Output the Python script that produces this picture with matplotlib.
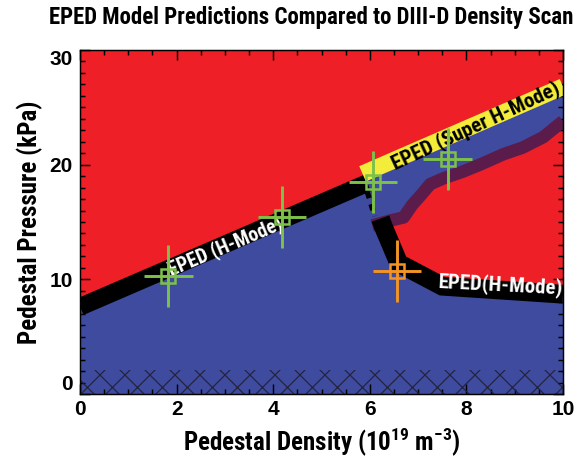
import numpy as np
import matplotlib
matplotlib.use('Agg')
import matplotlib.pyplot as plt

# EPED model lines (density in 1e19 m^-3, pressure in kPa)
hmode_x = [0.0, 5.95]
hmode_y = [7.6, 18.4]
super_x = [5.85, 10.0]
super_y = [19.2, 26.8]
purple_x = [6.05, 6.4, 6.7, 6.88, 7.05, 7.25, 7.52, 7.93, 8.28, 8.76, 9.17, 9.59, 10.0]
purple_y = [14.7, 15.1, 15.4, 16.5, 17.3, 18.3, 18.8, 19.4, 20.0, 20.9, 21.5, 22.4, 23.8]
lower_x = [6.22, 6.28, 6.6, 7.5, 10.0]
lower_y = [15.3, 14.6, 11.4, 9.4, 8.7]
jump_x = [5.95, 6.1]
jump_y = [17.6, 15.5]

# DIII-D measurements
meas_x = [1.83, 4.18, 6.06, 7.61]
meas_y = [10.3, 15.4, 18.5, 20.5]
odd_x = [6.56]
odd_y = [10.75]
err_x = 0.5
err_y = 2.7
hatch_top = 2.1

red = '#EE1F26'
blue = '#3F4B9F'
yellow = '#F4EC3B'
purple = '#5B1B4B'
green = '#7DC14B'
orange = '#F39424'

narrow = ['Roboto Condensed', 'PT Sans Narrow', 'DejaVu Sans']
plt.rcParams['font.family'] = narrow
plt.rcParams['font.weight'] = 'bold'
plt.rcParams['mathtext.fontset'] = 'custom'
plt.rcParams['mathtext.rm'] = 'Roboto Condensed:bold'
plt.rcParams['mathtext.bf'] = 'Roboto Condensed:bold'
plt.rcParams['mathtext.default'] = 'rm'
plt.rcParams['hatch.linewidth'] = 0.6
plt.rcParams['hatch.color'] = '#22243f'

fig = plt.figure(figsize=(588/150, 461/150), dpi=150)
ax = fig.add_axes([80/588, 1-394/461, 483/588, 344/461])
ax.set_facecolor(red)

# blue (stable) region under the EPED boundary
bx = np.concatenate([[0.0], hmode_x, super_x, purple_x[::-1], lower_x, [10.0]])
by = np.concatenate([[0.0], hmode_y, super_y, purple_y[::-1], lower_y, [0.0]])
ax.fill(bx, by, color=blue, lw=0, zorder=1)

ax.fill_between([0, 10], 0, hatch_top, facecolor='none', edgecolor='#22243f',
                hatch='xx', lw=0, zorder=2)

ax.plot(purple_x, purple_y, color=purple, lw=6.0, solid_capstyle='butt', zorder=3)
ax.plot(hmode_x, hmode_y, color='black', lw=8.5, solid_capstyle='butt', zorder=4)
ax.plot(lower_x, lower_y, color='black', lw=9, solid_capstyle='butt',
        solid_joinstyle='miter', zorder=4)
ax.plot(super_x, super_y, color=yellow, lw=8, solid_capstyle='butt', zorder=5)
ax.plot(jump_x, jump_y, color='black', lw=2.5, dashes=(1.2, 1.2), zorder=4)

ax.text(3.0, 12.9, 'EPED (H-Mode)', color='white', fontsize=9.5, rotation=23,
        ha='center', va='center', rotation_mode='anchor', zorder=6)
ax.text(8.2, 23.4, 'EPED (Super H-Mode)', color='black', fontsize=10, rotation=25,
        ha='center', va='center', rotation_mode='anchor', zorder=6)
ax.text(8.72, 9.5, 'EPED(H-Mode)', color='white', fontsize=10, rotation=-3,
        ha='center', va='center', rotation_mode='anchor', zorder=6)

ax.errorbar(meas_x, meas_y, xerr=err_x, yerr=err_y, fmt='s', mfc='none', mec=green,
            ms=6.7, mew=1.2, ecolor=green, elinewidth=1.4, capsize=0, zorder=7)
ax.errorbar(odd_x, odd_y, xerr=err_x, yerr=err_y, fmt='s', mfc='none', mec=orange,
            ms=6.7, mew=1.2, ecolor=orange, elinewidth=1.4, capsize=0, zorder=7)

ax.set_xlim(0, 10)
ax.set_ylim(0, 30)
ax.set_xticks(np.arange(0, 11, 2))
ax.set_xticks(np.arange(0, 10.01, 0.5), minor=True)
ax.set_yticks([0, 10, 20, 30])
ax.set_yticks(np.arange(0, 31, 1), minor=True)
ax.tick_params(which='both', direction='in', top=True, right=True, width=0.7)
ax.tick_params(which='major', length=4.8)
ax.tick_params(which='minor', length=2.4)
ax.tick_params(axis='x', pad=2.9)
ax.tick_params(axis='y', pad=3.4)
for lab in ax.get_xticklabels() + ax.get_yticklabels():
    lab.set_family(['Liberation Sans', 'DejaVu Sans'])
    lab.set_fontweight('bold')
    lab.set_fontsize(10)
ylabs = ax.get_yticklabels()
ylabs[0].set_va('bottom')
ylabs[-1].set_va('top')
for sp in ax.spines.values():
    sp.set_linewidth(0.7)
    sp.set_zorder(8)

ax.set_xlabel('Pedestal Density (10$^{19}$ m$^{-3}$)', fontsize=12,
              fontweight='bold', labelpad=3)
ax.set_ylabel('Pedestal Pressure (kPa)', fontsize=12, fontweight='bold', labelpad=3)
fig.text(0.53, 0.963, 'EPED Model Predictions Compared to DIII-D Density Scan',
         fontsize=11, fontweight='bold', ha='center', va='center')

fig.savefig('out.png', dpi=150)
